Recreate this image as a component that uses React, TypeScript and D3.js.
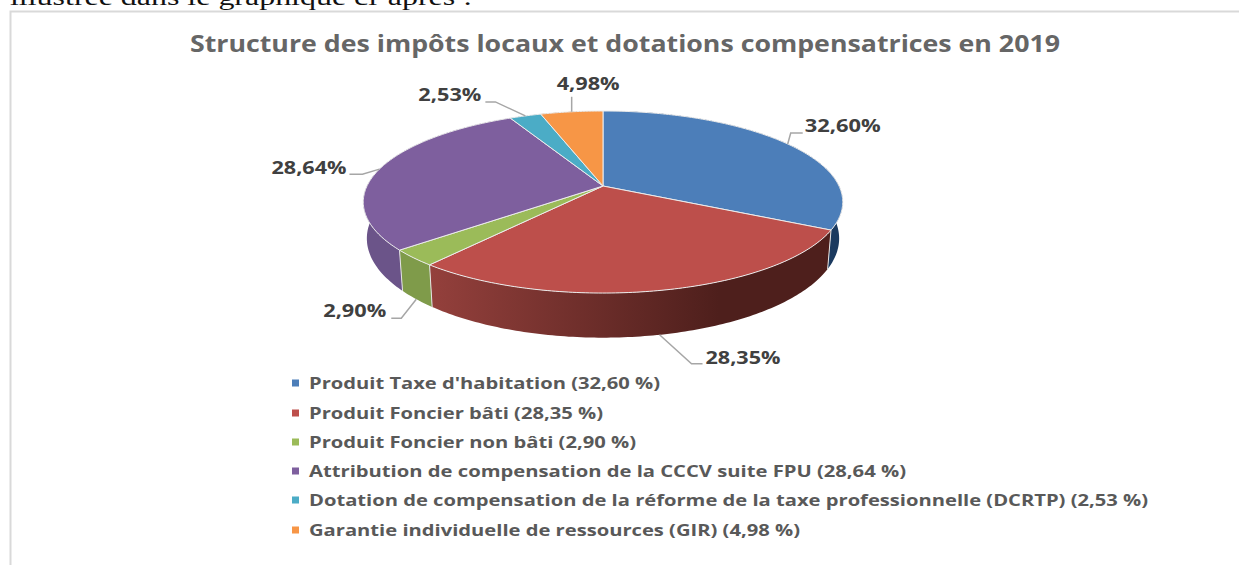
import React, { useEffect, useRef } from 'react';
import * as d3 from 'd3';

const width = 1239;
const height = 565;

const titleText = 'Structure des impôts locaux et dotations compensatrices en 2019';
const introText = 'illustrée dans le graphique ci-après :';

const shares = [32.6, 28.35, 2.9, 28.64, 2.53, 4.98];
const dataLabels = ['32,60%', '28,35%', '2,90%', '28,64%', '2,53%', '4,98%'];
const legendLabels = [
  "Produit Taxe d'habitation (32,60 %)",
  'Produit Foncier bâti (28,35 %)',
  'Produit Foncier non bâti (2,90 %)',
  'Attribution de compensation de la CCCV suite FPU (28,64 %)',
  'Dotation de compensation de la réforme de la taxe professionnelle (DCRTP) (2,53 %)',
  'Garantie individuelle de ressources (GIR) (4,98 %)',
];
const topColors = ['#4c7eb9', '#bd4f4b', '#9bbb59', '#7e5f9e', '#4bacc6', '#f79646'];
const wallColors = ['#1b3a5f', 'url(#red-wall)', '#7f9b4a', '#6b5489', '#2f7d93', '#b56c30'];

// pixel widths of the stretched legend rows
const legendWidths = [351, 294, 327, 597, 839, 491];
const legendRowY = [383, 413, 442, 471, 500, 530];

// leader elbow and end, relative to the anchor on the pie rim
const leaderOffsets = [
  [[3, -11], [15, -11]],
  [[32, 29], [43, 29]],
  [[-15, 19], [-25, 19]],
  [[-17, 5], [-30, 5]],
  [[-30, -14], [-40, -14]],
  [[0, -15], [0, -15]],
];
// label position relative to the leader end, then its drawn width
const labelOffsets = [
  [2, -6, 76],
  [3, -5, 75],
  [-68, -6, 63],
  [-78, -5, 75],
  [-67, -6, 63],
  [-15, -12, 63],
];

// pie apex and perspective
const cx = 603;
const cy = 186;
const scaleX = 236;
const scaleY = 88.2;
const tilt = 0.176;

const projectTop = (angle: number) => {
  const u = Math.sin(angle);
  const v = -Math.cos(angle);
  const w = 1 - tilt * v;
  return [(scaleX * u) / w, (scaleY * v) / w];
};
const topPoint = (angle: number): [number, number] => {
  const [x, y] = projectTop(angle);
  return [cx + x, cy + y];
};
// lower rim of the wall sits a bit narrower, and further down
const bottomPoint = (angle: number): [number, number] => {
  const [x, y] = projectTop(angle);
  return [cx + x * 0.985, cy + y * 1.09 + 35];
};

const App = () => {
  const svgRef = useRef<SVGSVGElement>(null);

  useEffect(() => {
    if (!svgRef.current) return;
    const svg = d3.select(svgRef.current);
    svg.selectAll('*').remove();

    const font = '"Open Sans", sans-serif';
    const slices = d3.pie<number>().sort(null).value((d) => d)(shares);
    const line = d3.line();
    const color = d3.scaleOrdinal<number, string>().domain(d3.range(6)).range(topColors);
    const anglesOf = (a0: number, a1: number) => [...d3.range(a0, a1, 0.015), a1];

    const defs = svg.append('defs');
    const redWall = defs.append('linearGradient').attr('id', 'red-wall');
    redWall.append('stop').attr('offset', '0%').attr('stop-color', '#94403c');
    redWall.append('stop').attr('offset', '72%').attr('stop-color', '#4e1f1c');
    redWall.append('stop').attr('offset', '100%').attr('stop-color', '#4e1f1c');

    // intro text and frame
    svg
      .append('text')
      .attr('x', 10)
      .attr('y', 5)
      .attr('font-family', '"Liberation Serif", serif')
      .attr('font-size', 24)
      .attr('textLength', 462)
      .attr('lengthAdjust', 'spacingAndGlyphs')
      .attr('fill', '#111')
      .text(introText);
    svg
      .append('path')
      .attr('d', `M${width},11.5H10.5V${height}`)
      .attr('fill', 'none')
      .attr('stroke', '#d9d9d9')
      .attr('stroke-width', 2);

    svg
      .append('text')
      .attr('x', 190)
      .attr('y', 52)
      .attr('font-family', font)
      .attr('font-size', 23)
      .attr('font-weight', 700)
      .attr('textLength', 870)
      .attr('lengthAdjust', 'spacingAndGlyphs')
      .attr('fill', '#666666')
      .text(titleText);

    // walls first, then the top faces over them
    const walls = svg.append('g');
    slices.forEach((s, i) => {
      const angles = anglesOf(s.startAngle, s.endAngle);
      const outline = [...angles.map(topPoint), ...angles.slice().reverse().map(bottomPoint)];
      walls.append('path').attr('d', `${line(outline)}Z`).attr('fill', wallColors[i]);
    });
    slices.forEach((s) => {
      const a = s.endAngle;
      if (Math.cos(a) > 0) return; // back of the pie
      walls
        .append('path')
        .attr('d', line([topPoint(a), bottomPoint(a)]))
        .attr('stroke', '#e4e4e4')
        .attr('stroke-width', 1);
    });

    const tops = svg.append('g');
    slices.forEach((s, i) => {
      const rim = anglesOf(s.startAngle, s.endAngle).map(topPoint);
      tops
        .append('path')
        .attr('d', `${line([[cx, cy], ...rim])}Z`)
        .attr('fill', color(i))
        .attr('stroke', '#ececec')
        .attr('stroke-width', 1)
        .attr('stroke-linejoin', 'round');
    });

    // leaders and data labels
    slices.forEach((s, i) => {
      const mid = (s.startAngle + s.endAngle) / 2;
      const anchor = Math.cos(mid) < -0.5 ? bottomPoint(mid) : topPoint(mid);
      const [elbow, end] = leaderOffsets[i];
      const pts: [number, number][] = [
        anchor,
        [anchor[0] + elbow[0], anchor[1] + elbow[1]],
        [anchor[0] + end[0], anchor[1] + end[1]],
      ];
      svg
        .append('path')
        .attr('d', line(pts))
        .attr('fill', 'none')
        .attr('stroke', '#a6a6a6')
        .attr('stroke-width', 1.5);
      const [dx, dy, labelWidth] = labelOffsets[i];
      svg
        .append('text')
        .attr('x', pts[2][0] + dx)
        .attr('y', pts[2][1] + dy + 5)
        .attr('font-family', font)
        .attr('font-size', 17)
        .attr('font-weight', 700)
        .attr('textLength', labelWidth)
        .attr('lengthAdjust', 'spacingAndGlyphs')
        .attr('fill', '#404040')
        .text(dataLabels[i]);
    });

    // legend
    const legend = svg.append('g');
    legendLabels.forEach((label, i) => {
      legend
        .append('rect')
        .attr('x', 292)
        .attr('y', legendRowY[i] - 3.5)
        .attr('width', 7)
        .attr('height', 7)
        .attr('fill', color(i));
      legend
        .append('text')
        .attr('x', 309)
        .attr('y', legendRowY[i] + 5.5)
        .attr('font-family', font)
        .attr('font-size', 16)
        .attr('font-weight', 700)
        .attr('textLength', legendWidths[i])
        .attr('lengthAdjust', 'spacingAndGlyphs')
        .attr('fill', '#595959')
        .text(label);
    });
  }, []);

  return (
    <svg
      ref={svgRef}
      width={width}
      height={height}
      style={{ position: 'absolute', left: 0, top: 0, background: '#fff' }}
    />
  );
};

export default App;
